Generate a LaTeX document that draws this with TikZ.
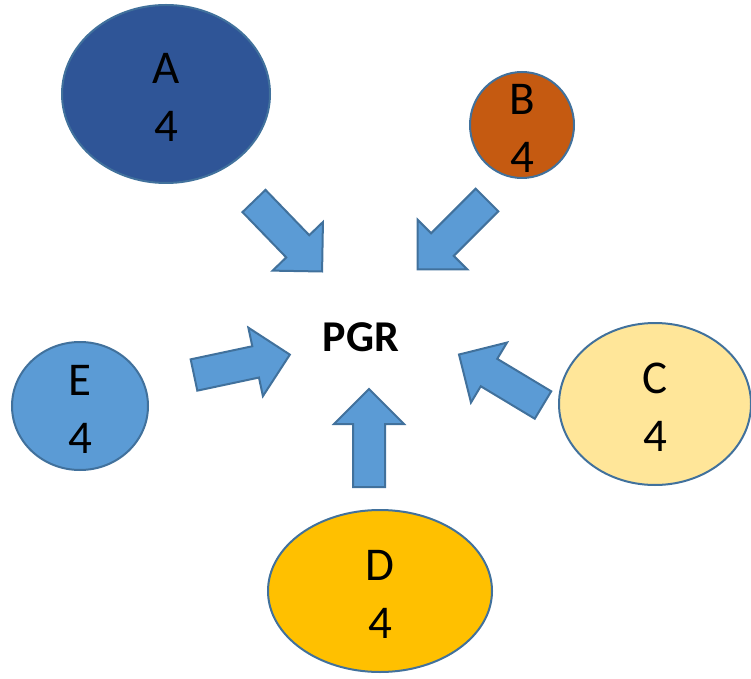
\documentclass[tikz,border=0pt]{standalone}
\usepackage{fontspec}
\setmainfont{Carlito}
\usepackage{tikz}
\usetikzlibrary{shapes.geometric,positioning}
\definecolor{colora}{HTML}{2F5597}
\definecolor{colorb}{HTML}{C55A11}
\definecolor{colorc}{HTML}{FFE699}
\definecolor{colord}{HTML}{FFC000}
\definecolor{colore}{HTML}{5B9BD5}
\definecolor{colorline}{HTML}{41719C}
\tikzset{
  blob/.style={ellipse, draw=colorline, line width=2pt, inner sep=0pt},
  blobtext/.style={align=center, inner sep=0pt, yshift=-3pt,
    font=\fontsize{47}{58}\selectfont},
  centre/.style={inner sep=0pt, font=\fontsize{44}{52}\selectfont\bfseries},
  bluearrow/.pic={
    \draw[fill=colore, draw=colorline, line width=2pt, line join=miter]
      (0,-16) -- (63,-16) -- (63,-35) -- (98,0) -- (63,35) -- (63,16)
      -- (0,16) -- cycle;
  }
}
\newcommand\val{4}

\begin{document}
\begin{tikzpicture}[x=1pt, y=1pt]
\useasboundingbox (0,0) rectangle (751,678);

\node[centre](pgr) at (361,341) {PGR};

% the five groups round the centre
\node[blob, fill=colora, minimum width=208, minimum height=178](a) at (166,584) {};
\node[blobtext](atext) at (a.center) {A\\\val};

\node[blob, fill=colorb, minimum width=104, minimum height=106](b) at (522,553) {};
\node[blobtext](btext) at (b.center) {B\\\val};

\node[blob, fill=colorc, minimum width=192, minimum height=162](c) at (655,274) {};
\node[blobtext](ctext) at (c.center) {C\\\val};

\node[blob, fill=colord, minimum width=224, minimum height=162](d) at (380,87) {};
\node[blobtext](dtext) at (d.center) {D\\\val};

\node[blob, fill=colore, minimum width=136, minimum height=128](e) at (80,272) {};
\node[blobtext](etext) at (e.center) {E\\\val};

% block arrows pointing at the centre
\pic[rotate=-46] at (254,477) {bluearrow};
\pic[rotate=225] at (487,478) {bluearrow};
\pic[rotate=149] at (543,273) {bluearrow};
\pic[rotate=90] at (369,191) {bluearrow};
\pic[rotate=12] at (194,303) {bluearrow};
\end{tikzpicture}
\end{document}
